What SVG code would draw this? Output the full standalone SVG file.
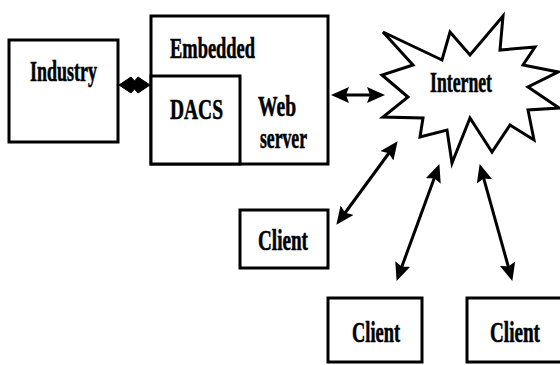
<svg xmlns="http://www.w3.org/2000/svg" width="560" height="365" viewBox="0 0 560 365">
  <style>
    .box { fill: #fff; stroke: #000; stroke-width: 3; }
    .lbl { font-family: "Liberation Serif", "Times New Roman", serif; font-weight: bold; font-size: 30px; fill: #000; stroke: #000; stroke-width: 0.6; }
    .conn { stroke: #000; stroke-width: 3; fill: none; marker-start: url(#ah); marker-end: url(#ah); }
  </style>
  <defs>
    <marker id="ah" markerUnits="userSpaceOnUse" markerWidth="18" markerHeight="16" viewBox="0 0 18 16" refX="9" refY="8" orient="auto-start-reverse">
      <path d="M0,0 L18,8 L0,16 L3,8 z" fill="#000"/>
    </marker>
  </defs>
  <rect width="560" height="365" fill="#fff"/>

  <g id="industry">
    <rect class="box" x="9" y="40" width="109" height="102"/>
    <text class="lbl" x="30" y="81" textLength="67" lengthAdjust="spacingAndGlyphs">Industry</text>
  </g>

  <g id="embedded">
    <rect class="box" x="151" y="16" width="177" height="148"/>
    <text class="lbl" x="170" y="58" textLength="85" lengthAdjust="spacingAndGlyphs">Embedded</text>
    <text class="lbl" x="258" y="116" font-size="28" textLength="38" lengthAdjust="spacingAndGlyphs">Web</text>
    <text class="lbl" x="260" y="148" font-size="28" textLength="47" lengthAdjust="spacingAndGlyphs">server</text>
  </g>

  <g id="dacs">
    <rect class="box" x="151" y="76" width="89" height="88"/>
    <text class="lbl" x="170" y="119" textLength="53" lengthAdjust="spacingAndGlyphs">DACS</text>
  </g>

  <g id="internet">
    <polygon fill="#fff" stroke="#000" stroke-width="3" stroke-linejoin="miter" points="383,32 442,60 450,32 470,55 503,16 500,50 535,47 523,65 558,72 528,87 559,108 528,110 534,140 510,125 492,152 470,118 452,163 447,130 420,137 423,118 383,117 408,97 382,75 413,65"/>
    <text class="lbl" x="430" y="92" textLength="62" lengthAdjust="spacingAndGlyphs">Internet</text>
  </g>

  <g id="client1">
    <rect class="box" x="240" y="210" width="88" height="58"/>
    <text class="lbl" x="258" y="250" font-size="28" textLength="50" lengthAdjust="spacingAndGlyphs">Client</text>
  </g>

  <g id="client2">
    <rect class="box" x="328" y="298" width="94" height="64"/>
    <text class="lbl" x="352" y="342" font-size="28" textLength="48" lengthAdjust="spacingAndGlyphs">Client</text>
  </g>

  <g id="client3">
    <rect class="box" x="467" y="298" width="100" height="64"/>
    <text class="lbl" x="490" y="342" font-size="28" textLength="50" lengthAdjust="spacingAndGlyphs">Client</text>
  </g>

  <g id="connectors">
    <path d="M119,85 L131,77 L134.5,81 L138,77 L150,85 L138,93 L134.5,89 L131,93 Z" fill="#000" stroke="#000" stroke-width="1" stroke-linejoin="round"/>
    <path class="conn" d="M340,95 L376,95"/>
    <path class="conn" d="M341.7,217.5 L392.3,148.5"/>
    <path class="conn" d="M399.7,272.5 L436.3,172.5"/>
    <path class="conn" d="M509.9,272.3 L482.1,172.7"/>
  </g>
</svg>
